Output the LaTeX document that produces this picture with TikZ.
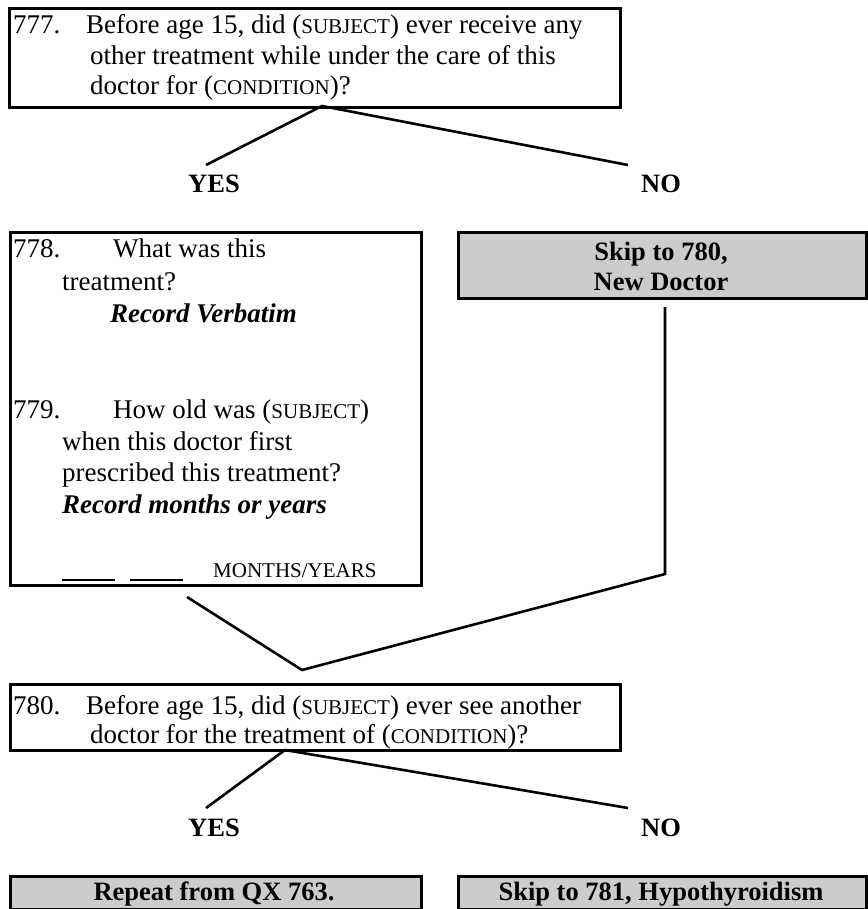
\documentclass[tikz,border=0pt]{standalone}
\usepackage{fontspec}
\setmainfont{Liberation Serif}
\newcommand{\smc}[1]{{\fontsize{21}{24}\selectfont #1}}
\begin{document}
\begin{tikzpicture}[x=1pt,y=-1pt,
  box/.style={draw=black, line width=2.6pt, anchor=north west, inner sep=0pt},
  graybox/.style={box, fill=black!20},
  txt/.style={anchor=base west, inner sep=0pt, font=\fontsize{27}{31}\selectfont},
  itxt/.style={txt, font=\fontsize{27}{31}\selectfont\bfseries\itshape},
  btxt/.style={anchor=base, inner sep=0pt, font=\fontsize{26.5}{30}\selectfont\bfseries},
  link/.style={line width=2.6pt}]
\useasboundingbox (0,0) rectangle (867,909);

% question 777
\node[box, minimum width=611pt, minimum height=99pt] (q777) at (8,7) {};
\node[txt] (n777) at (13,34) {777.};
\node[txt] (t777a) at (86,34) {Before age 15, did (\smc{SUBJECT}) ever receive any};
\node[txt] (t777b) at (90,65) {other treatment while under the care of this};
\node[txt] (t777c) at (90,95) {doctor for (\smc{CONDITION})?};

\coordinate (j777) at (322,106);
\coordinate (y1end) at (206,165);
\coordinate (n1end) at (628,165);
\node[btxt] (yes1) at (214,193) {YES};
\node[btxt] (no1) at (661,193) {NO};
\draw[link] (y1end) -- (j777) -- (n1end);

% questions 778 and 779
\node[box, minimum width=411pt, minimum height=353pt] (q778) at (9,231) {};
\node[txt] (n778) at (13,257) {778.};
\node[txt] (t778a) at (113,257) {What was this};
\node[txt] (t778b) at (62,290) {treatment?};
\node[itxt] (t778c) at (110,322) {Record Verbatim};
\node[txt] (n779) at (13,418) {779.};
\node[txt] (t779a) at (113,418) {How old was (\smc{SUBJECT})};
\node[txt] (t779b) at (62,450) {when this doctor first};
\node[txt] (t779c) at (62,481) {prescribed this treatment?};
\node[itxt] (t779d) at (62,513) {Record months or years};
\node[txt] (t779e) at (62,577) {\rule[-4pt]{53pt}{1.6pt}\hspace{15pt}\rule[-4pt]{53pt}{1.6pt}\hspace{30pt}\smc{MONTHS/YEARS}};

% skip box to 780
\node[graybox, minimum width=408pt, minimum height=66pt] (skip780) at (457,231) {};
\node[btxt] (s780a) at (661,260) {Skip to 780,};
\node[btxt] (s780b) at (661,290) {New Doctor};

\coordinate (vtop) at (665,307);
\coordinate (vbend) at (665,574);
\coordinate (lfree) at (187,597);
\coordinate (j780) at (302,670);
\draw[link] (vtop) -- (vbend) -- (j780) -- (lfree);

% question 780
\node[box, minimum width=610pt, minimum height=66pt] (q780) at (9,683) {};
\node[txt] (n780) at (13,714) {780.};
\node[txt] (t780a) at (86,714) {Before age 15, did (\smc{SUBJECT}) ever see another};
\node[txt] (t780b) at (90,743) {doctor for the treatment of (\smc{CONDITION})?};

\coordinate (j780b) at (285,750);
\coordinate (y2end) at (206,808);
\coordinate (n2end) at (628,808);
\node[btxt] (yes2) at (214,836) {YES};
\node[btxt] (no2) at (661,836) {NO};
\draw[link] (y2end) -- (j780b) -- (n2end);

% final boxes
\node[graybox, minimum width=411pt, minimum height=33pt] (rep) at (9,875) {};
\node[btxt] (reptxt) at (214,900) {Repeat from QX 763.};
\node[graybox, minimum width=408pt, minimum height=33pt] (skip781) at (457,875) {};
\node[btxt] (s781) at (661,900) {Skip to 781, Hypothyroidism};
\end{tikzpicture}
\end{document}
